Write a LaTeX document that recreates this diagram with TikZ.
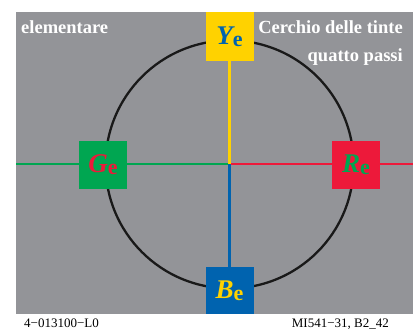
\documentclass[tikz,border=0pt]{standalone}
\usepackage{fontspec}
\setmainfont{Liberation Serif}
\definecolor{bggray}{RGB}{147,148,152}
\definecolor{cyel}{RGB}{255,210,0}
\definecolor{cgrn}{RGB}{0,166,81}
\definecolor{cred}{RGB}{237,25,58}
\definecolor{cblu}{RGB}{0,99,175}
\tikzset{
  hbox/.style={minimum width=48pt, minimum height=48pt, inner sep=0pt, outer sep=0pt},
  axis/.style={line width=2pt},
  toptext/.style={text=white, font=\fontsize{18.5}{20}\selectfont\bfseries, inner sep=0pt},
  foot/.style={text=black, font=\fontsize{13}{14}\selectfont, inner sep=0pt}
}
\newcommand{\hlab}[1]{{\fontsize{27}{27}\selectfont\bfseries\itshape #1}{\fontsize{22}{22}\selectfont\bfseries\raisebox{-2pt}{e}}}
\begin{document}
\begin{tikzpicture}[x=1pt,y=-1pt]
\useasboundingbox (0,0) rectangle (413,332);
\fill[white] (0,0) rectangle (413,332);
\fill[bggray] (16,12) rectangle (413,314);
\coordinate (C) at (229.6,164.4);
\coordinate (Lend) at (16,164.4);
\coordinate (Rend) at (413,164.4);
\coordinate (yc) at (229.6,36.5);
\coordinate (bc) at (229.6,290.5);
\coordinate (gc) at (103,165);
\coordinate (rc) at (356,165);
\draw[black!90, line width=2.3pt] (C) circle (124pt);
\draw[axis, cgrn] (Lend) -- (C);
\draw[axis, cred] (C) -- (Rend);
\draw[axis, cyel, line width=3.6pt] (yc) -- (C);
\draw[axis, cblu, line width=2.9pt] (C) -- (bc);
\node[hbox, fill=cyel, minimum height=49pt] (Y) at (yc) {\textcolor{cblu}{\hlab{Y}}};
\node[hbox, fill=cblu, minimum height=47pt] (B) at (bc) {\textcolor{cyel}{\hlab{B}}};
\node[hbox, fill=cgrn] (G) at (gc) {\textcolor{cred}{\hlab{G}}};
\node[hbox, fill=cred] (R) at (rc) {\textcolor{cgrn}{\hlab{R}}};
\node[toptext, anchor=base west] (el) at (21,33) {elementare};
\node[toptext, anchor=base east] (ce) at (403,33) {Cerchio delle tinte};
\node[toptext, anchor=base east] (qp) at (403,61) {quatto passi};
\node[foot, anchor=base west] (f1) at (24,327) {4−013100−L0};
\node[foot, anchor=base east] (f2) at (389,327) {MI541−31, B2\_42};
\end{tikzpicture}
\end{document}
